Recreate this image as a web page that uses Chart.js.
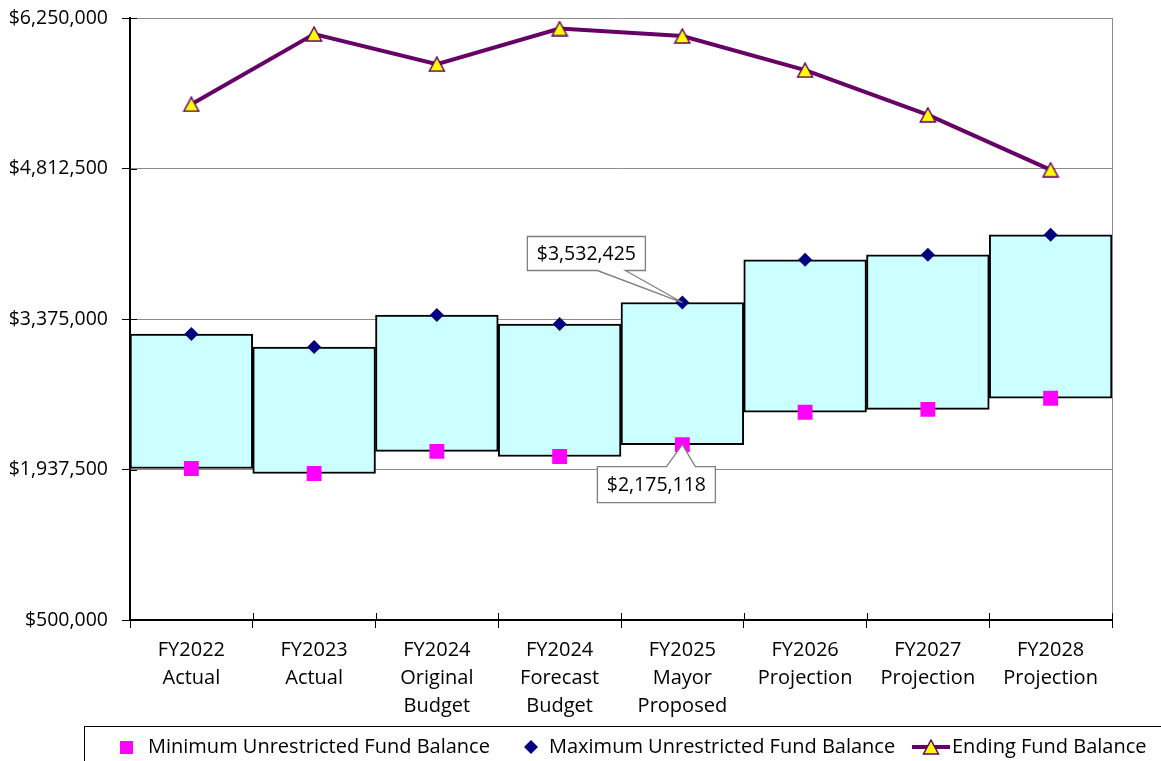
<!DOCTYPE html>
<html><head><meta charset="utf-8">
<script src="https://cdn.jsdelivr.net/npm/chart.js@4"></script>
<style>html,body{margin:0;padding:0;background:#fff;overflow:hidden}#wrap{width:1161px;height:761px}</style>
</head><body><div id="wrap"><canvas id="c" width="1161" height="761"></canvas></div>
<script>
const categories = [["FY2022","Actual"],["FY2023","Actual"],["FY2024","Original","Budget"],["FY2024","Forecast","Budget"],["FY2025","Mayor","Proposed"],["FY2026","Projection"],["FY2027","Projection"],["FY2028","Projection"]];
const minBalance = [1947000,1899000,2110000,2062000,2175118,2484000,2512000,2618000];
const maxBalance = [3231000,3107000,3413000,3327000,3532425,3940000,3988000,4180000];
const endingBalance = [5426000,6097000,5809000,6149000,6078000,5752000,5325000,4800000];
const yTicks = [500000,1937500,3375000,4812500,6250000];
const seriesNames = ["Minimum Unrestricted Fund Balance","Maximum Unrestricted Fund Balance","Ending Fund Balance"];
const calloutIndex = 4;

const FONT = "'Open Sans', 'Noto Sans', sans-serif";
const money = v => "$" + Math.round(v).toLocaleString("en-US");

// triangle marker with its bounding box centred on the data point
const triMarker = (() => {
  const cv = document.createElement("canvas");
  cv.width = 18; cv.height = 16;
  const g = cv.getContext("2d");
  g.beginPath(); g.moveTo(9, 1); g.lineTo(16.5, 15); g.lineTo(1.5, 15); g.closePath();
  g.fillStyle = "#FFFF00"; g.fill();
  g.strokeStyle = "#660066"; g.lineWidth = 1.5; g.lineJoin = "miter"; g.stroke();
  return cv;
})();

const decor = {
  id: "decor",
  beforeDatasetsDraw(chart) {
    const {ctx, chartArea: a} = chart;
    ctx.save();
    ctx.strokeStyle = "#8c8c8c"; ctx.lineWidth = 1;
    ctx.beginPath(); ctx.moveTo(a.right + 0.5, a.top); ctx.lineTo(a.right + 0.5, a.bottom); ctx.stroke();
    ctx.restore();
  },
  afterDatasetsDraw(chart) {
    const {ctx} = chart;
    const x = chart.scales.x, y = chart.scales.y;
    const callouts = [
      {value: maxBalance[calloutIndex], side: "bottom", box: [-155, -66, 118, 34], wedge: [-85, -57]},
      {value: minBalance[calloutIndex], side: "top", box: [-85, 22, 118, 36], wedge: [-16, 13]}
    ];
    ctx.save();
    callouts.forEach(c => {
      const px = x.getPixelForValue(calloutIndex), py = y.getPixelForValue(c.value);
      const x0 = px + c.box[0], y0 = py + c.box[1], x1 = x0 + c.box[2], y1 = y0 + c.box[3];
      ctx.beginPath();
      if (c.side === "bottom") {
        ctx.moveTo(x0, y0); ctx.lineTo(x1, y0); ctx.lineTo(x1, y1);
        ctx.lineTo(px + c.wedge[1], y1); ctx.lineTo(px, py); ctx.lineTo(px + c.wedge[0], y1);
        ctx.lineTo(x0, y1); ctx.closePath();
      } else {
        ctx.moveTo(x0, y0); ctx.lineTo(px + c.wedge[0], y0); ctx.lineTo(px, py); ctx.lineTo(px + c.wedge[1], y0);
        ctx.lineTo(x1, y0); ctx.lineTo(x1, y1); ctx.lineTo(x0, y1); ctx.closePath();
      }
      ctx.fillStyle = "#fff"; ctx.fill();
      ctx.strokeStyle = "#7f7f7f"; ctx.lineWidth = 1.3; ctx.stroke();
      ctx.fillStyle = "#000"; ctx.font = "19.5px " + FONT;
      ctx.textAlign = "center"; ctx.textBaseline = "middle";
      ctx.fillText(money(c.value), (x0 + x1) / 2, (y0 + y1) / 2 + 1);
    });
    ctx.restore();
  },
  afterDraw(chart) {
    const {ctx, chartArea: a} = chart;
    const x = chart.scales.x, y = chart.scales.y;
    ctx.save();
    ctx.strokeStyle = "#000"; ctx.lineWidth = 1;
    yTicks.forEach(v => {
      const py = Math.round(y.getPixelForValue(v)) + 0.5;
      ctx.beginPath(); ctx.moveTo(a.left, py); ctx.lineTo(a.left + 7, py); ctx.stroke();
    });
    const step = (a.right - a.left) / categories.length;
    for (let i = 0; i <= categories.length; i++) {
      const px = Math.round(a.left + i * step) + 0.5;
      ctx.beginPath(); ctx.moveTo(px, a.bottom - 7); ctx.lineTo(px, a.bottom); ctx.stroke();
    }
    // legend
    ctx.strokeStyle = "#000"; ctx.lineWidth = 1;
    ctx.strokeRect(84.5, 726.5, 1200, 100);
    const ly = 747;
    ctx.fillStyle = "#FF00FF"; ctx.fillRect(120, ly - 6, 13, 13);
    ctx.fillStyle = "#000080";
    ctx.beginPath(); ctx.moveTo(531, ly - 7); ctx.lineTo(538, ly); ctx.lineTo(531, ly + 7); ctx.lineTo(524, ly); ctx.closePath(); ctx.fill();
    ctx.strokeStyle = "#660066"; ctx.lineWidth = 4;
    ctx.beginPath(); ctx.moveTo(912, ly); ctx.lineTo(950, ly); ctx.stroke();
    ctx.drawImage(triMarker, 931 - 9, ly - 8);
    ctx.fillStyle = "#000"; ctx.font = "20px " + FONT; ctx.textAlign = "left"; ctx.textBaseline = "middle";
    ctx.fillText(seriesNames[0], 148, ly);
    ctx.fillText(seriesNames[1], 549, ly);
    ctx.fillText(seriesNames[2], 952, ly);
    ctx.restore();
  }
};

new Chart(document.getElementById("c"), {
  type: "bar",
  data: {
    labels: categories,
    datasets: [
      {
        type: "line", label: seriesNames[2], data: endingBalance, order: 0,
        borderColor: "#660066", borderWidth: 4, tension: 0,
        pointStyle: triMarker, pointRadius: 8
      },
      {
        type: "line", label: seriesNames[1], data: maxBalance, order: 1, showLine: false,
        pointStyle: "rectRot", pointRadius: 7, pointBackgroundColor: "#000080", pointBorderWidth: 0, borderColor: "#000080"
      },
      {
        type: "line", label: seriesNames[0], data: minBalance, order: 1, showLine: false,
        pointStyle: "rect", pointRadius: 10.5, pointBackgroundColor: "#FF00FF", pointBorderWidth: 0, borderColor: "#FF00FF"
      },
      {
        type: "bar", label: "Range", data: minBalance.map((v, i) => [v, maxBalance[i]]), order: 2,
        backgroundColor: "#CCFFFF", borderColor: "#000", borderWidth: 2, borderSkipped: false,
        barPercentage: 1, categoryPercentage: 1
      }
    ]
  },
  options: {
    responsive: false, devicePixelRatio: 1, animation: false,
    layout: {padding: {left: 0, top: 18, right: 49, bottom: 0}},
    plugins: {legend: {display: false}, tooltip: {enabled: false}},
    scales: {
      x: {
        offset: true,
        grid: {offset: true, drawOnChartArea: false, drawTicks: true, tickLength: 8, tickColor: "#000"},
        border: {color: "#000", width: 2},
        ticks: {color: "#000", font: {family: FONT, size: 20, lineHeight: 1.4}, padding: 8, maxRotation: 0, autoSkip: false},
        afterFit: s => { s.height = 141; s.paddingLeft = 0; s.paddingRight = 0; }
      },
      y: {
        min: 500000, max: 6250000,
        afterBuildTicks: s => { s.ticks = yTicks.map(v => ({value: v})); },
        grid: {color: "#8c8c8c", lineWidth: 1, tickColor: "#000", tickLength: 8},
        border: {color: "#000", width: 2},
        ticks: {color: "#000", font: {family: FONT, size: 19.5}, padding: 14, callback: v => money(v)},
        afterFit: s => { s.width = 130; s.paddingTop = 0; s.paddingBottom = 0; }
      }
    }
  },
  plugins: [decor]
});
</script>
</body></html>
